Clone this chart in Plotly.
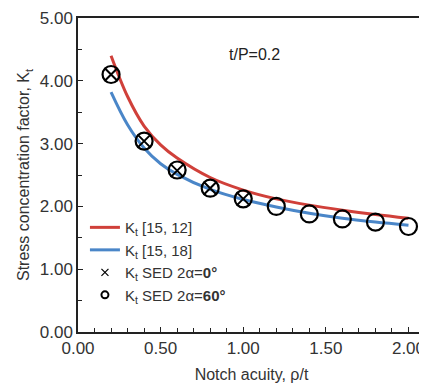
import plotly.graph_objects as go

# Data
x_curve = [0.2, 0.3, 0.4, 0.5, 0.6, 0.8, 1.0, 1.2, 1.4, 1.6, 1.8, 2.0]
kt_15_12 = [4.40, 3.75, 3.28, 2.98, 2.77, 2.46, 2.26, 2.12, 2.02, 1.94, 1.87, 1.81]
kt_15_18 = [3.82, 3.30, 2.93, 2.68, 2.51, 2.27, 2.11, 1.99, 1.89, 1.81, 1.75, 1.70]

x_sed0 = [0.2, 0.4, 0.6, 0.8, 1.0]
kt_sed0 = [4.10, 3.04, 2.57, 2.29, 2.12]

x_sed60 = [0.2, 0.4, 0.6, 0.8, 1.0, 1.2, 1.4, 1.6, 1.8, 2.0]
kt_sed60 = [4.10, 3.04, 2.58, 2.29, 2.12, 2.00, 1.88, 1.80, 1.75, 1.68]

x_ticks = [0.0, 0.5, 1.0, 1.5, 2.0]
x_tick_labels = ["0.00", "0.50", "1.00", "1.50", "2.00"]
y_ticks = [0, 1, 2, 3, 4, 5]
y_tick_labels = ["0.00", "1.00", "2.00", "3.00", "4.00", "5.00"]

RED = "#d0403a"
BLUE = "#4a86c8"
FONT = "Liberation Sans, Arial, sans-serif"

fig = go.Figure()
fig.add_trace(go.Scatter(x=x_curve, y=kt_15_12, mode="lines", line=dict(color=RED, width=3, shape="spline"),
                         name="K<sub>t</sub> [15, 12]"))
fig.add_trace(go.Scatter(x=x_curve, y=kt_15_18, mode="lines", line=dict(color=BLUE, width=3, shape="spline"),
                         name="K<sub>t</sub> [15, 18]"))
fig.add_trace(go.Scatter(x=x_sed60, y=kt_sed60, mode="markers", showlegend=False,
                         marker=dict(symbol="circle-open", size=17, color="black", line=dict(width=2.2, color="black"))))
fig.add_trace(go.Scatter(x=x_sed0, y=kt_sed0, mode="markers", showlegend=False,
                         marker=dict(symbol="x-thin-open", size=13, color="black", line=dict(width=2, color="black"))))
# legend-only entries with small symbols
fig.add_trace(go.Scatter(x=[None], y=[None], mode="markers", name="K<sub>t</sub> SED 2α=<b>0°</b>",
                         marker=dict(symbol="x-thin-open", size=7, color="black", line=dict(width=1.2, color="black"))))
fig.add_trace(go.Scatter(x=[None], y=[None], mode="markers", name="K<sub>t</sub> SED 2α=<b>60°</b>",
                         marker=dict(symbol="circle-open", size=7, color="black", line=dict(width=2, color="black"))))

fig.add_annotation(x=1.07, y=4.42, text="t/P=0.2", showarrow=False, font=dict(size=16, color="#222", family=FONT))

axis_common = dict(showline=True, linecolor="#222", linewidth=1.5, mirror=True, ticks="inside",
                   tickcolor="#222", ticklen=5, showgrid=False, zeroline=False, automargin=False,
                   tickfont=dict(size=17, color="#333", family=FONT))
fig.update_xaxes(range=[0, 2.1], tickvals=x_ticks, ticktext=x_tick_labels,
                 minor=dict(dtick=0.1, ticks="inside", ticklen=4, tickcolor="#222"),
                 title=dict(text="Notch acuity, ρ/t", font=dict(size=16, color="#333", family=FONT), standoff=12),
                 **axis_common)
fig.update_yaxes(range=[0, 5], tickvals=y_ticks, ticktext=y_tick_labels,
                 minor=dict(dtick=0.5, ticks="inside", ticklen=4, tickcolor="#222"),
                 title=dict(text="Stress concentration factor, K<sub>t</sub>", font=dict(size=16, color="#333", family=FONT), standoff=6),
                 **axis_common)

fig.update_layout(width=419, height=376, margin=dict(l=70, r=2, t=10, b=52),
                  plot_bgcolor="white", paper_bgcolor="white",
                  font=dict(family=FONT, color="#333"),
                  legend=dict(x=0.02, y=0.385, xanchor="left", yanchor="top", bgcolor="rgba(0,0,0,0)",
                              font=dict(size=15, color="#333", family=FONT), tracegroupgap=0, itemwidth=30))

fig.write_html("out.html")
